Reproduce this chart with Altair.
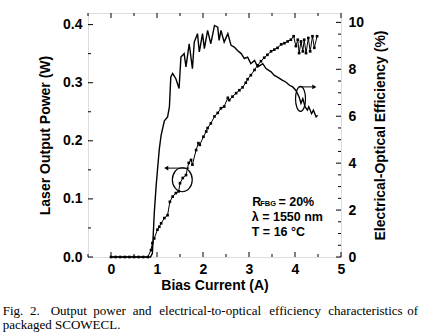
import altair as alt
import pandas as pd

# ---------------- data ----------------
eff_x = [0.00, 0.30, 0.60, 0.86, 0.90, 0.94, 0.98, 1.01, 1.05, 1.09, 1.16, 1.23, 1.27, 1.30,
         1.34, 1.41, 1.48, 1.52, 1.59, 1.63, 1.70, 1.77, 1.81, 1.88, 1.92, 1.99, 2.03, 2.10,
         2.17, 2.25, 2.32, 2.35, 2.39, 2.46, 2.54, 2.61, 2.68, 2.75, 2.83, 2.90, 2.97, 3.04,
         3.12, 3.19, 3.30, 3.37, 3.48, 3.55, 3.62, 3.73, 3.80, 3.88, 3.95, 4.02, 4.09, 4.13,
         4.17, 4.22, 4.27, 4.30, 4.36, 4.40, 4.46, 4.49]
eff_y = [0.00, 0.00, 0.00, 0.00, 0.16, 1.86, 3.00, 3.70, 4.60, 5.20, 5.80, 5.97, 6.40, 7.67,
         7.82, 7.60, 7.18, 8.52, 8.67, 8.10, 9.09, 8.03, 9.16, 9.52, 8.74, 9.52, 8.88, 9.66,
         9.09, 9.87, 9.80, 9.23, 9.66, 9.16, 9.52, 9.02, 8.95, 8.80, 8.67, 8.46, 8.52, 8.24,
         8.38, 8.10, 8.24, 8.03, 7.89, 7.74, 7.67, 7.53, 7.46, 7.32, 7.25, 7.10, 6.82, 6.55,
         6.75, 6.40, 6.26, 6.40, 6.11, 6.26, 5.97, 6.04]

pow_x = [0.00, 0.10, 0.20, 0.30, 0.40, 0.50, 0.60, 0.70, 0.80, 0.87, 0.90, 0.94, 1.01, 1.05,
         1.09, 1.16, 1.23, 1.28, 1.34, 1.41, 1.47, 1.50, 1.56, 1.63, 1.69, 1.74, 1.77, 1.85,
         1.90, 1.93, 2.01, 2.07, 2.10, 2.17, 2.25, 2.32, 2.39, 2.46, 2.54, 2.57, 2.64, 2.72,
         2.79, 2.86, 2.93, 2.97, 3.04, 3.12, 3.19, 3.26, 3.33, 3.40, 3.48, 3.55, 3.62, 3.70,
         3.77, 3.84, 3.91, 3.97, 4.02, 4.06, 4.09, 4.13, 4.17, 4.20, 4.24, 4.29, 4.33, 4.38,
         4.42, 4.48]
pow_y = [0.000, 0.000, 0.000, 0.000, 0.000, 0.000, 0.000, 0.000, 0.000, 0.012, 0.024, 0.032,
         0.047, 0.052, 0.058, 0.067, 0.072, 0.095, 0.104, 0.110, 0.113, 0.127, 0.136, 0.141,
         0.162, 0.167, 0.159, 0.184, 0.196, 0.193, 0.207, 0.216, 0.222, 0.230, 0.242, 0.248,
         0.256, 0.259, 0.274, 0.270, 0.276, 0.282, 0.287, 0.292, 0.300, 0.306, 0.313, 0.322,
         0.330, 0.337, 0.343, 0.348, 0.354, 0.357, 0.360, 0.366, 0.368, 0.371, 0.374, 0.380,
         0.363, 0.374, 0.351, 0.371, 0.354, 0.374, 0.351, 0.377, 0.354, 0.380, 0.360, 0.380]

x_ticks = [0, 1, 2, 3, 4, 5]
x_minor = [-0.5, 0.5, 1.5, 2.5, 3.5, 4.5]
p_ticks = [0.0, 0.1, 0.2, 0.3, 0.4]
p_minor = [0.05, 0.15, 0.25, 0.35]
e_ticks = [0, 2, 4, 6, 8, 10]
e_minor = [0.5, 1, 1.5, 2.5, 3, 3.5, 4.5, 5, 5.5, 6.5, 7, 7.5, 8.5, 9, 9.5]

# annotation (ellipse + arrow) anchors
ell_p = {"I": [1.55], "P": [0.133]}
arr_p = {"I": [1.70], "I2": [1.20], "P": [0.153]}
ell_e = {"I": [4.12], "E": [6.74]}
arr_e = {"I": [4.09], "I2": [4.42], "E": [7.25]}

ann_text = ["R", "FBG", "= 20%", "λ = 1550 nm", "T = 16 °C"]
ann_I = [3.07, 3.245, 3.64, 3.06, 3.06]
ann_P = [0.0955, 0.0905, 0.0955, 0.0684, 0.0436]
ann_size = [12.5, 7.5, 12.5, 12.5, 12.5]

cap_words = ["Fig.", "2.", "Output", "power", "and", "electrical-to-optical",
             "efficiency", "characteristics", "of"]
cap_px = [2.7, 30, 50.7, 93.3, 132.7, 159.3, 269.3, 328.3, 407.3]
cap_line2 = "packaged SCOWECL."

# ---------------- chart ----------------
W, H = 253, 244
FONT = "Liberation Sans"
xs = alt.Scale(domain=[-0.5, 5], nice=False, zero=False)
ps = alt.Scale(domain=[0, 0.42], nice=False, zero=False)
es = alt.Scale(domain=[0, 10.4], nice=False, zero=False)

x_axis = alt.Axis(title="Bias Current (A)", values=x_ticks, format="d", grid=False,
                  ticks=False, tickSize=0, domain=False, labelFont=FONT, labelFontSize=14,
                  labelFontWeight="bold", labelPadding=5, labelColor="black",
                  titleFont=FONT, titleFontSize=14, titleFontWeight="bold",
                  titlePadding=2, titleColor="black", labelFlush=False)


def X(field="I"):
    return alt.X(f"{field}:Q", scale=xs, axis=x_axis)


def YP(field="P"):
    return alt.Y(f"{field}:Q", scale=ps, axis=None)


def YE(field="E"):
    return alt.Y(f"{field}:Q", scale=es, axis=None)


eff_df = pd.DataFrame({"I": eff_x, "E": eff_y})
pow_df = pd.DataFrame({"I": pow_x, "P": pow_y})

pow_layer = alt.Chart(pow_df).mark_line(
    color="black", strokeWidth=1,
    point=alt.OverlayMarkDef(shape="square", size=7, filled=True, color="black")
).encode(
    x=X(),
    y=alt.Y("P:Q", scale=ps, axis=alt.Axis(
        orient="left", title="Laser Output Power (W)", values=p_ticks, format=".1f",
        grid=False, ticks=False, tickSize=0, domain=False, labelFont=FONT,
        labelFontSize=14, labelFontWeight="bold", labelPadding=6, labelColor="black",
        titleFont=FONT, titleFontSize=14, titleFontWeight="bold", titlePadding=10,
        titleColor="black", labelFlush=False)),
)

eff_layer = alt.Chart(eff_df).mark_line(color="black", strokeWidth=1.4).encode(
    x=X(),
    y=alt.Y("E:Q", scale=es, axis=alt.Axis(
        orient="right", title="Electrical-Optical Efficiency (%)", values=e_ticks,
        format="d", grid=False, ticks=False, tickSize=0, domain=False, labelFont=FONT,
        labelFontSize=14, labelFontWeight="bold", labelPadding=7, labelColor="black",
        titleFont=FONT, titleFontSize=14, titleFontWeight="bold", titlePadding=10,
        titleColor="black", titleAngle=270, titleBaseline="top", labelFlush=False)),
)

layers = [pow_layer, eff_layer]

# inward tick marks
def hticks(vals, yfn, x0, x1):
    return alt.Chart(pd.DataFrame({"v": vals})).mark_rule(color="black", strokeWidth=1).encode(
        y=yfn("v"), x=alt.value(x0), x2=alt.value(x1))


def vticks(vals, y0, y1):
    return alt.Chart(pd.DataFrame({"I": vals})).mark_rule(color="black", strokeWidth=1).encode(
        x=X(), y=alt.value(y0), y2=alt.value(y1))


layers += [
    hticks(p_ticks, YP, 0, 5), hticks(p_minor, YP, 0, 3),
    hticks(e_ticks, YE, W, W - 5), hticks(e_minor, YE, W, W - 3),
    vticks(x_ticks, H, H - 5), vticks(x_minor, H, H - 3),
    vticks(x_ticks, 0, 5), vticks(x_minor, 0, 3),
]

# ellipses and arrows
ELL1 = "M -0.83 0 A 0.83 1 0 1 1 0.83 0 A 0.83 1 0 1 1 -0.83 0 Z"
ELL2 = "M -0.4 0 A 0.4 1 0 1 1 0.4 0 A 0.4 1 0 1 1 -0.4 0 Z"
layers += [
    alt.Chart(pd.DataFrame(ell_p)).mark_point(shape=ELL1, size=576, filled=False,
                                               color="black", strokeWidth=1.2, opacity=1).encode(
        x=X(), y=YP()),
    alt.Chart(pd.DataFrame(arr_p)).mark_rule(color="black", strokeWidth=1).encode(
        x=X(), x2="I2:Q", y=YP()),
    alt.Chart(pd.DataFrame(arr_p)).mark_point(shape="triangle-left", size=22, filled=True,
                                               color="black", opacity=1).encode(
        x=X("I2"), y=YP()),
    alt.Chart(pd.DataFrame(ell_e)).mark_point(shape=ELL2, size=625, filled=False,
                                               color="black", strokeWidth=1.2, opacity=1).encode(
        x=X(), y=YE()),
    alt.Chart(pd.DataFrame(arr_e)).mark_rule(color="black", strokeWidth=1).encode(
        x=X(), x2="I2:Q", y=YE()),
    alt.Chart(pd.DataFrame(arr_e)).mark_point(shape="triangle-right", size=22, filled=True,
                                               color="black", opacity=1).encode(
        x=X("I2"), y=YE()),
]

# text annotations
ann_df = pd.DataFrame({"t": ann_text, "I": ann_I, "P": ann_P, "s": ann_size})
layers.append(
    alt.Chart(ann_df).mark_text(align="left", baseline="middle", font=FONT,
                                fontWeight="bold", color="black").encode(
        x=X(), y=YP(), text="t:N",
        size=alt.Size("s:Q", scale=None, legend=None))
)

# caption
for w, px in zip(cap_words, cap_px):
    layers.append(
        alt.Chart(pd.DataFrame({"a": [0]})).mark_text(
            align="left", baseline="alphabetic", font="Liberation Serif", fontSize=13,
            color="black").encode(x=alt.value(px - 88), y=alt.value(302), text=alt.value(w))
    )
layers.append(
    alt.Chart(pd.DataFrame({"a": [0]})).mark_text(
        align="left", baseline="alphabetic", font="Liberation Serif", fontSize=13,
        color="black").encode(x=alt.value(2.7 - 88), y=alt.value(315.5), text=alt.value(cap_line2))
)

chart = alt.layer(*layers).resolve_scale(y="independent").properties(
    width=W, height=H, autosize="none",
    padding={"left": 88, "top": 13, "right": 85, "bottom": 76},
).configure_view(stroke="black", strokeWidth=1.2).configure(background="white")

chart.save("out.html", embed_options={"renderer": "svg", "actions": False})
